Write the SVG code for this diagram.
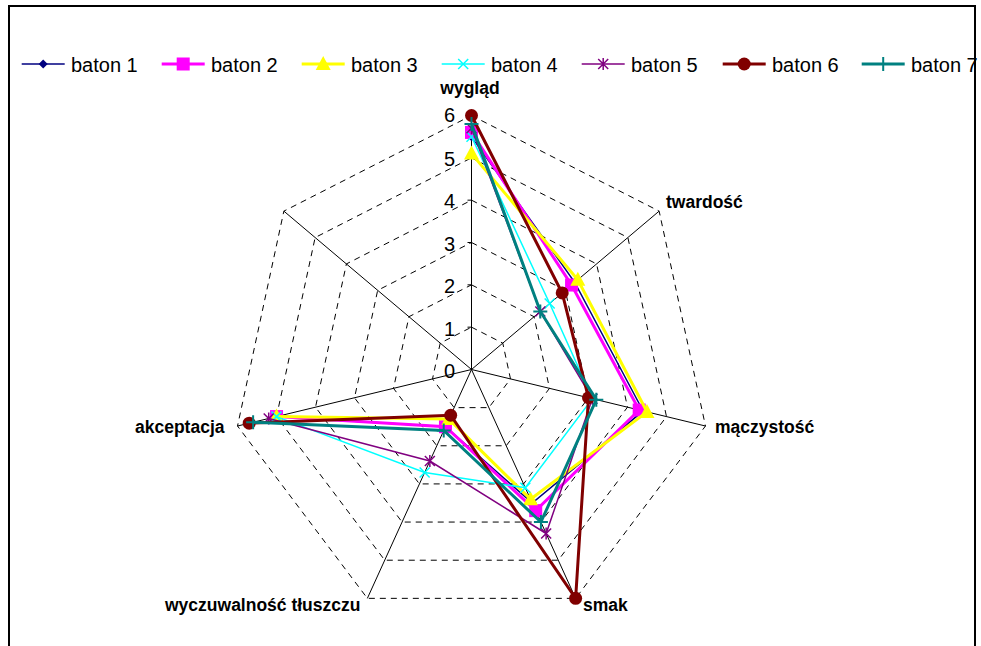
<svg xmlns="http://www.w3.org/2000/svg" xmlns:xlink="http://www.w3.org/1999/xlink" width="981" height="646" viewBox="0 0 981 646">
<style>
.grid{fill:none;stroke:#000;stroke-width:1;stroke-dasharray:6 5}
.axis{stroke:#000;stroke-width:1;fill:none}
.lbl{font-family:"Liberation Sans",Arial,sans-serif;font-weight:bold;font-size:17.5px;fill:#000}
.tick{font-family:"Liberation Sans",Arial,sans-serif;font-size:20px;fill:#000;text-anchor:end}
.leg{font-family:"Liberation Sans",Arial,sans-serif;font-size:20px;fill:#000}
.s1{stroke:#000080;stroke-width:1.5;fill:none}
.s2{stroke:#FF00FF;stroke-width:3;fill:none}
.s3{stroke:#FFFF00;stroke-width:3;fill:none}
.s4{stroke:#00FFFF;stroke-width:1.5;fill:none}
.s5{stroke:#800080;stroke-width:1.5;fill:none}
.s6{stroke:#800000;stroke-width:3;fill:none}
.s7{stroke:#008080;stroke-width:3;fill:none}
</style>
<defs>
<path id="m1" d="M0,-4.5 L4.5,0 L0,4.5 L-4.5,0Z" fill="#000080"/>
<rect id="m2" x="-6.5" y="-6.5" width="13" height="13" fill="#FF00FF"/>
<path id="m3" d="M0,-8 L7.5,6 L-7.5,6Z" fill="#FFFF00"/>
<path id="m4" d="M-5,-5 L5,5 M-5,5 L5,-5" stroke="#00FFFF" stroke-width="1.5" fill="none"/>
<path id="m5" d="M-5,-5 L5,5 M-5,5 L5,-5 M0,-6 V6" stroke="#800080" stroke-width="1.5" fill="none"/>
<circle id="m6" r="6.5" fill="#800000"/>
<path id="m7" d="M-7,0 H7 M0,-7 V7" stroke="#008080" stroke-width="2" fill="none"/>
</defs>
<rect width="981" height="646" fill="#fff"/>
<rect id="frame" x="9" y="6" width="966" height="700" fill="none" stroke="#000" stroke-width="2"/>

<g id="grid">
<polygon class="grid" points="471.5,327.17 502.77,343.11 510.50,378.92 488.86,407.64 454.15,407.64 432.50,378.92 440.23,343.11"/>
<polygon class="grid" points="471.5,284.83 534.05,316.71 549.49,388.34 506.21,445.78 436.79,445.78 393.51,388.34 408.95,316.71"/>
<polygon class="grid" points="471.5,242.5 565.32,290.32 588.49,397.76 523.57,483.92 419.44,483.92 354.51,397.76 377.68,290.32"/>
<polygon class="grid" points="471.5,200.17 596.59,263.92 627.49,407.18 540.92,522.06 402.08,522.06 315.51,407.18 346.41,263.92"/>
<polygon class="grid" points="471.5,157.83 627.87,237.53 666.49,416.60 558.28,560.21 384.73,560.21 276.52,416.60 315.14,237.53"/>
<polygon class="grid" points="471.5,115.5 659.14,211.14 705.48,426.02 575.63,598.35 367.37,598.35 237.52,426.02 283.86,211.14"/>
</g>
<g id="axes">
<path class="axis" d="M471.5,369.5 L471.5,115.5 M471.5,369.5 L659.14,211.14 M471.5,369.5 L705.48,426.02 M471.5,369.5 L575.63,598.35 M471.5,369.5 L367.37,598.35 M471.5,369.5 L237.52,426.02 M471.5,369.5 L283.86,211.14"/>
<path class="axis" d="M467.5,327.17 H471.5 M467.5,284.83 H471.5 M467.5,242.5 H471.5 M467.5,200.17 H471.5 M467.5,157.83 H471.5"/>
</g>
<g id="tick-labels">
<text class="tick" x="455" y="378">0</text>
<text class="tick" x="455" y="335.5">1</text>
<text class="tick" x="455" y="293">2</text>
<text class="tick" x="455" y="250.5">3</text>
<text class="tick" x="455" y="208">4</text>
<text class="tick" x="455" y="165.5">5</text>
<text class="tick" x="455" y="122">6</text>
</g>
<g id="axis-labels">
<text class="lbl" x="470" y="94" text-anchor="middle">wygląd</text>
<text class="lbl" x="666" y="208">twardość</text>
<text class="lbl" x="715" y="433">mączystość</text>
<text class="lbl" x="583" y="611">smak</text>
<text class="lbl" x="165" y="611">wyczuwalność tłuszczu</text>
<text class="lbl" x="135" y="433">akceptacja</text>
</g>

<g id="series">
<g id="baton1">
<polyline class="s1" points="471.5,136.67 574.70,282.40 643.09,410.95 532.24,503.00 445.47,426.71 276.52,416.60"/>
<use href="#m1" x="471.5" y="136.67"/><use href="#m1" x="574.70" y="282.40"/><use href="#m1" x="643.09" y="410.95"/><use href="#m1" x="532.24" y="503.00"/><use href="#m1" x="445.47" y="426.71"/><use href="#m1" x="276.52" y="416.60"/>
</g>
<g id="baton2">
<polyline class="s2" points="471.5,132.43 571.57,285.04 639.19,410.01 535.71,510.62 445.47,426.71 276.52,416.60"/>
<use href="#m2" x="471.5" y="132.43"/><use href="#m2" x="571.57" y="285.04"/><use href="#m2" x="639.19" y="410.01"/><use href="#m2" x="535.71" y="510.62"/><use href="#m2" x="445.47" y="426.71"/><use href="#m2" x="276.52" y="416.60"/>
</g>
<g id="baton3">
<polyline class="s3" points="471.5,153.60 577.83,279.76 646.99,411.89 530.51,499.18 448.94,419.08 276.52,416.60"/>
<use href="#m3" x="471.5" y="153.60"/><use href="#m3" x="577.83" y="279.76"/><use href="#m3" x="646.99" y="411.89"/><use href="#m3" x="530.51" y="499.18"/><use href="#m3" x="448.94" y="419.08"/><use href="#m3" x="276.52" y="416.60"/>
</g>
<g id="baton4">
<polyline class="s4" points="471.5,136.67 549.68,303.52 592.39,398.70 525.30,487.74 424.64,472.48 276.52,416.60"/>
<use href="#m4" x="471.5" y="136.67"/><use href="#m4" x="549.68" y="303.52"/><use href="#m4" x="592.39" y="398.70"/><use href="#m4" x="525.30" y="487.74"/><use href="#m4" x="424.64" y="472.48"/><use href="#m4" x="276.52" y="416.60"/>
</g>
<g id="baton5">
<polyline class="s5" points="471.5,128.20 540.30,311.43 592.39,398.70 546.13,533.51 429.85,461.04 268.72,418.48"/>
<use href="#m5" x="471.5" y="128.20"/><use href="#m5" x="540.30" y="311.43"/><use href="#m5" x="592.39" y="398.70"/><use href="#m5" x="546.13" y="533.51"/><use href="#m5" x="429.85" y="461.04"/><use href="#m5" x="268.72" y="418.48"/>
</g>
<g id="baton6">
<polyline class="s6" points="471.5,115.5 562.19,292.96 588.49,397.76 575.63,598.35 450.67,415.27 249.22,423.19"/>
<use href="#m6" x="471.5" y="115.5"/><use href="#m6" x="562.19" y="292.96"/><use href="#m6" x="588.49" y="397.76"/><use href="#m6" x="575.63" y="598.35"/><use href="#m6" x="450.67" y="415.27"/><use href="#m6" x="249.22" y="423.19"/>
</g>
<g id="baton7">
<polyline class="s7" points="471.5,123.97 540.30,311.43 596.29,399.64 540.92,522.06 443.73,430.53 253.12,422.25"/>
<use href="#m7" x="471.5" y="123.97"/><use href="#m7" x="540.30" y="311.43"/><use href="#m7" x="596.29" y="399.64"/><use href="#m7" x="540.92" y="522.06"/><use href="#m7" x="443.73" y="430.53"/><use href="#m7" x="253.12" y="422.25"/>
</g>
</g>

<g id="legend">
<g id="leg1"><line class="s1" x1="21.7" y1="64" x2="64.7" y2="64"/><use href="#m1" x="43.2" y="64"/><text class="leg" x="71" y="71.5">baton 1</text></g>
<g id="leg2"><line class="s2" x1="161.7" y1="64" x2="204.7" y2="64"/><use href="#m2" x="183.2" y="64"/><text class="leg" x="211" y="71.5">baton 2</text></g>
<g id="leg3"><line class="s3" x1="301.7" y1="64" x2="344.7" y2="64"/><use href="#m3" x="323.2" y="64"/><text class="leg" x="351" y="71.5">baton 3</text></g>
<g id="leg4"><line class="s4" x1="441.7" y1="64" x2="484.7" y2="64"/><use href="#m4" x="463.2" y="64"/><text class="leg" x="491" y="71.5">baton 4</text></g>
<g id="leg5"><line class="s5" x1="581.7" y1="64" x2="624.7" y2="64"/><use href="#m5" x="603.2" y="64"/><text class="leg" x="631" y="71.5">baton 5</text></g>
<g id="leg6"><line class="s6" x1="722.7" y1="64" x2="765.7" y2="64"/><use href="#m6" x="744.2" y="64"/><text class="leg" x="772" y="71.5">baton 6</text></g>
<g id="leg7"><line class="s7" x1="861.7" y1="64" x2="904.7" y2="64"/><use href="#m7" x="883.2" y="64"/><text class="leg" x="911" y="71.5">baton 7</text></g>
</g>
</svg>
